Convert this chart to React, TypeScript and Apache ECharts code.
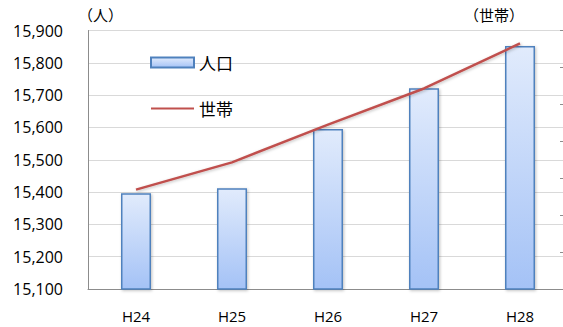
import React, { useEffect, useRef } from "react";
import * as echarts from "echarts";

const categories = ["H24", "H25", "H26", "H27", "H28"];
const population = [15396, 15412, 15595, 15721, 15852];
const households = [5169, 5243, 5345, 5443, 5565];
const leftMin = 15100;
const leftMax = 15900;
const leftInterval = 100;
const rightMin = 4900;
const rightMax = 5600;
const rightInterval = 100;
const seriesNames = ["人口", "世帯"];
const unitLeft = "（人）";
const unitRight = "（世帯）";

export default function App() {
  const ref = useRef<HTMLDivElement>(null);
  useEffect(() => {
    if (!ref.current) return;
    const chart = echarts.init(ref.current, null, { renderer: "svg" });
    const numFont = "'Open Sans', 'Liberation Sans', sans-serif";
    const cjkFont = "'Noto Sans CJK JP', 'Noto Sans', sans-serif";
    chart.setOption({
      animation: false,
      backgroundColor: "#ffffff",
      grid: { left: 88, right: -5, top: 30.5, bottom: 38, outerBoundsMode: "none", containLabel: false },
      legend: {
        orient: "vertical",
        left: 145,
        top: 49,
        itemWidth: 43,
        itemHeight: 10,
        itemGap: 29,
        textStyle: { fontFamily: cjkFont, fontSize: 17, color: "#000" },
        data: [
          { name: seriesNames[0], icon: "rect" },
          { name: seriesNames[1], itemStyle: { opacity: 0 } },
        ],
      },
      xAxis: {
        type: "category",
        data: categories,
        axisLine: { lineStyle: { color: "#8c8c8c", width: 1 } },
        axisTick: { show: false },
        axisLabel: { color: "#000", fontFamily: numFont, fontSize: 15, margin: 19 },
      },
      yAxis: [
        {
          type: "value",
          min: leftMin,
          max: leftMax,
          interval: leftInterval,
          axisLine: { show: true, lineStyle: { color: "#8c8c8c", width: 1 } },
          axisTick: { show: false },
          splitLine: { lineStyle: { color: "#d9d9d9", width: 1 } },
          axisLabel: {
            color: "#000",
            fontFamily: numFont,
            fontSize: 16,
            margin: 25,
            formatter: (v: number) => v.toLocaleString("en-US"),
          },
        },
        {
          type: "value",
          min: rightMin,
          max: rightMax,
          interval: rightInterval,
          position: "right",
          axisLine: { show: true, lineStyle: { color: "#8c8c8c" } },
          axisTick: { show: true, inside: true, length: 8, lineStyle: { color: "#8c8c8c" } },
          splitLine: { show: false },
          axisLabel: { show: false },
        },
      ],
      series: [
        {
          name: seriesNames[0],
          type: "bar",
          data: population,
          barWidth: 30,
          itemStyle: {
            color: new echarts.graphic.LinearGradient(0, 0, 0, 1, [
              { offset: 0, color: "#e1ebfc" },
              { offset: 1, color: "#a4c2f6" },
            ]),
            borderColor: "#4f81bd",
            borderWidth: 1.5,
            shadowColor: "rgba(0,0,0,0.25)",
            shadowBlur: 3,
            shadowOffsetX: 1,
            shadowOffsetY: 1,
          },
        },
        {
          name: seriesNames[1],
          type: "line",
          yAxisIndex: 1,
          data: households,
          symbol: "none",
          lineStyle: {
            color: "#c0504d",
            width: 2.5,
            shadowColor: "rgba(0,0,0,0.25)",
            shadowBlur: 3,
            shadowOffsetX: 1,
            shadowOffsetY: 1,
          },
          itemStyle: { color: "#c0504d" },
        },
      ],
      graphic: [
        {
          type: "text",
          left: 78,
          top: 7,
          style: { text: unitLeft, fontFamily: cjkFont, fontSize: 15, fill: "#000" },
        },
        {
          type: "text",
          left: 464,
          top: 7,
          style: { text: unitRight, fontFamily: cjkFont, fontSize: 15, fill: "#000" },
        },
      ],
    });
    return () => chart.dispose();
  }, []);
  return (
    <div
      ref={ref}
      style={{ position: "fixed", left: 0, top: 0, width: 563, height: 327 }}
    />
  );
}
